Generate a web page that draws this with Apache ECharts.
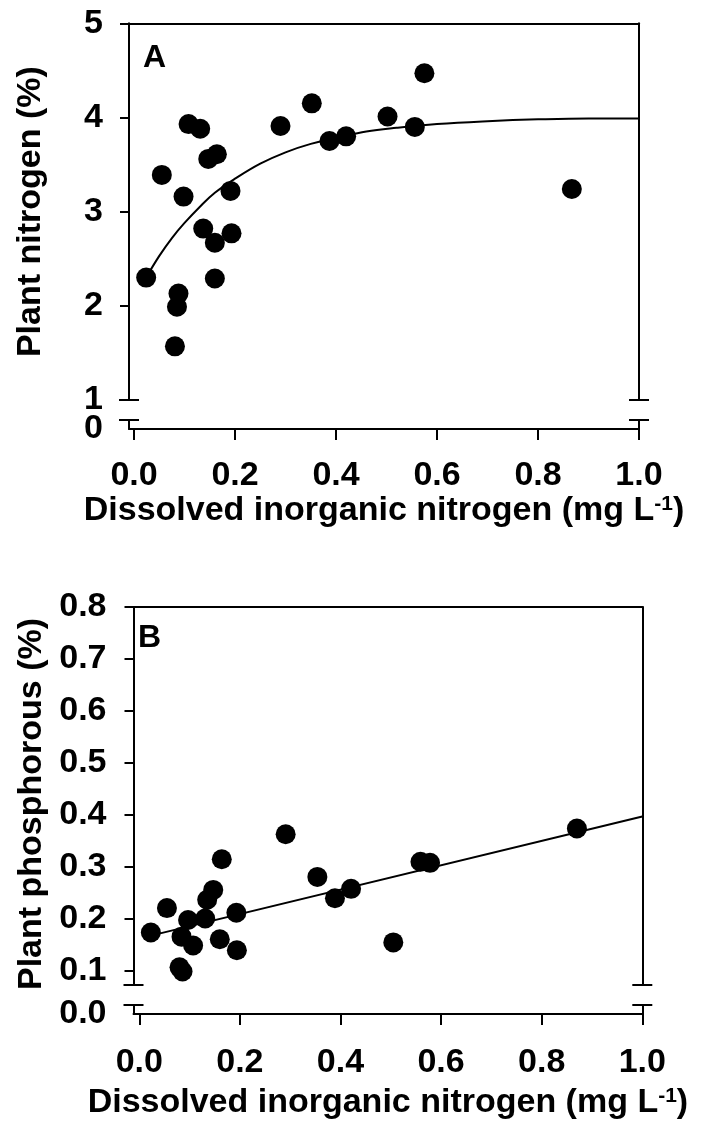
<!DOCTYPE html>
<html><head><meta charset="utf-8">
<script src="https://cdn.jsdelivr.net/npm/echarts@6/dist/echarts.min.js"></script>
<style>html,body{margin:0;padding:0;background:#fff}#c{width:705px;height:1127px}</style>
</head><body><div id="c"></div>
<script>
// ---- data ----
const X_TICKS = [0, 0.2, 0.4, 0.6, 0.8, 1.0];
const A_Y_TICKS = [1, 2, 3, 4, 5];
const A_Y_LOW_TICKS = [0];
const B_Y_TICKS = [0.1, 0.2, 0.3, 0.4, 0.5, 0.6, 0.7, 0.8];
const B_Y_LOW_TICKS = [0];

// Panel A: plant nitrogen (%) vs dissolved inorganic nitrogen (mg/L)
const A_DIN = [0.024, 0.055, 0.081, 0.085, 0.088, 0.098, 0.108, 0.131, 0.137, 0.147, 0.160, 0.160, 0.164, 0.191, 0.193, 0.290, 0.352, 0.387, 0.420, 0.502, 0.556, 0.575, 0.867];
const A_PN  = [2.30, 3.39, 1.57, 1.99, 2.13, 3.16, 3.93, 3.88, 2.82, 3.56, 2.67, 2.29, 3.61, 3.22, 2.77, 3.91, 4.15, 3.75, 3.80, 4.01, 3.90, 4.47, 3.24];
// fitted curve in panel A
const A_FIT_X = [0.024, 0.05, 0.075, 0.10, 0.13, 0.16, 0.20, 0.25, 0.30, 0.35, 0.40, 0.46, 0.52, 0.60, 0.70, 0.80, 0.90, 1.0];
const A_FIT_Y = [2.30, 2.53, 2.72, 2.88, 3.05, 3.20, 3.35, 3.51, 3.63, 3.72, 3.78, 3.85, 3.89, 3.93, 3.96, 3.98, 3.99, 3.99];

// Panel B: plant phosphorous (%) vs dissolved inorganic nitrogen (mg/L)
const B_DIN = [0.023, 0.055, 0.080, 0.084, 0.086, 0.097, 0.107, 0.131, 0.135, 0.147, 0.160, 0.164, 0.193, 0.194, 0.291, 0.354, 0.389, 0.421, 0.505, 0.559, 0.578, 0.870];
const B_PP  = [0.174, 0.221, 0.107, 0.166, 0.099, 0.198, 0.149, 0.201, 0.237, 0.256, 0.161, 0.315, 0.212, 0.140, 0.363, 0.281, 0.240, 0.258, 0.155, 0.310, 0.308, 0.374];
const B_FIT_X = [0.023, 1.0];
const B_FIT_Y = [0.168, 0.397];

const A_YTITLE = 'Plant nitrogen (%)';
const B_YTITLE = 'Plant phosphorous (%)';
const X_TITLE = 'Dissolved inorganic nitrogen (mg L{sup|-1})';

// ---- layout ----
const FONT = '"Liberation Sans", Arial, Helvetica, sans-serif';
const FS = 34;
const PA = {left:129, width:510, upTop:23.3, upH:376.7, loTop:420, loH:9, xMin:-0.01, yMin:1, yMax:5, loMax:9/94,
            xGap:64, xLblMargin:30, yGap:81, yLblMargin:26, yNamePad:[0,0,0,0]};
const PB = {left:133.5, width:508.8, upTop:607, upH:378, loTop:1005, loH:9, xMin:-0.0115, yMin:0.8-378/520, yMax:0.8, loMax:9/520,
            xGap:72, xLblMargin:32, yGap:85, yLblMargin:27, yNamePad:[0,16,0,0]};

const zip = (a, b) => a.map((v, i) => [v, b[i]]);
const fmt1 = v => (Math.round(v * 10) / 10).toFixed(1);
const lbl = {color:'#000', fontFamily:FONT, fontWeight:'bold', fontSize:FS};
const axLine = {show:true, onZero:false, lineStyle:{color:'#000', width:2}};
const noAx = {axisTick:{show:false}, axisLabel:{show:false}, splitLine:{show:false}};

const grids = [], xAxes = [], yAxes = [], series = [], graphics = [];

function panel(P, yTicks, yLowTicks, yFmt, yTitle, din, val, fx, fy, letter, letterPos) {
  const g = grids.length;
  grids.push({left:P.left, top:P.upTop, width:P.width, height:P.upH});
  grids.push({left:P.left, top:P.loTop, width:P.width, height:P.loH});
  const xi = xAxes.length, yi = yAxes.length;
  xAxes.push(Object.assign({type:'value', gridIndex:g, position:'top', min:P.xMin, max:1.0, axisLine:axLine}, noAx));
  xAxes.push({type:'value', gridIndex:g+1, position:'bottom', min:P.xMin, max:1.0, axisLine:axLine,
    axisTick:{show:true, customValues:X_TICKS, length:11, lineStyle:{color:'#000', width:2}},
    axisLabel:Object.assign({show:true, customValues:X_TICKS, formatter:fmt1, margin:P.xLblMargin}, lbl),
    splitLine:{show:false},
    name:X_TITLE, nameLocation:'middle', nameGap:P.xGap,
    nameTextStyle:Object.assign({}, lbl, {rich:{sup:{fontFamily:FONT, fontWeight:'bold', fontSize:21, color:'#000', verticalAlign:'top', lineHeight:21}}})
  });
  yAxes.push({type:'value', gridIndex:g, position:'left', min:P.yMin, max:P.yMax, axisLine:axLine,
    axisTick:{show:true, customValues:yTicks, length:9, lineStyle:{color:'#000', width:2}},
    axisLabel:Object.assign({show:true, customValues:yTicks, formatter:yFmt, margin:P.yLblMargin}, lbl),
    splitLine:{show:false},
    name:yTitle, nameLocation:'middle', nameGap:P.yGap, nameRotate:90,
    nameTextStyle:Object.assign({padding:P.yNamePad}, lbl)});
  yAxes.push(Object.assign({type:'value', gridIndex:g, position:'right', min:P.yMin, max:P.yMax, axisLine:axLine}, noAx));
  yAxes.push({type:'value', gridIndex:g+1, position:'left', min:0, max:P.loMax, axisLine:axLine,
    axisTick:{show:false}, splitLine:{show:false},
    axisLabel:Object.assign({show:true, customValues:yLowTicks, formatter:yFmt, margin:P.yLblMargin}, lbl)});
  yAxes.push(Object.assign({type:'value', gridIndex:g+1, position:'right', min:0, max:P.loMax, axisLine:axLine}, noAx));

  series.push({type:'line', xAxisIndex:xi, yAxisIndex:yi, data:zip(fx, fy), smooth:0.4,
    showSymbol:false, symbol:'none', lineStyle:{color:'#000', width:2}, z:2});
  series.push({type:'scatter', xAxisIndex:xi, yAxisIndex:yi, data:zip(din, val), symbol:'circle', symbolSize:20,
    itemStyle:{color:'#000', opacity:1}, z:3});

  // axis-break marks (decoration)
  const L = P.left, R = P.left + P.width, yb = P.upTop + P.upH, yt = P.loTop;
  [L, R].forEach(x => [yb, yt].forEach(y => graphics.push({type:'line', shape:{x1:x-10, y1:y, x2:x+10, y2:y}, style:{stroke:'#000', lineWidth:2}, z:10})));
  graphics.push({type:'text', left:letterPos[0], top:letterPos[1], style:{text:letter, font:'bold 32px ' + FONT, fill:'#000'}});
}

panel(PA, A_Y_TICKS, A_Y_LOW_TICKS, v => String(Math.round(v)), A_YTITLE, A_DIN, A_PN, A_FIT_X, A_FIT_Y, 'A', [143, 42]);
panel(PB, B_Y_TICKS, B_Y_LOW_TICKS, fmt1, B_YTITLE, B_DIN, B_PP, B_FIT_X, B_FIT_Y, 'B', [138, 622]);

const chart = echarts.init(document.getElementById('c'), null, {renderer:'canvas'});
chart.setOption({
  backgroundColor:'#fff', animation:false,
  grid:grids, xAxis:xAxes, yAxis:yAxes, series:series, graphic:graphics
});
</script></body></html>
